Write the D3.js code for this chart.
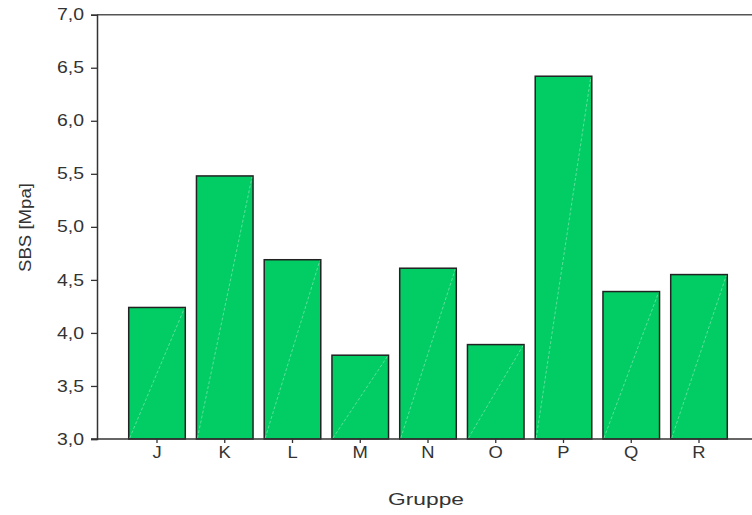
<!DOCTYPE html>
<html>
<head>
<meta charset="utf-8">
<script src="https://cdn.jsdelivr.net/npm/d3@7"></script>
<style>
html,body{margin:0;padding:0;background:#fff;}
svg{display:block;}
text{font-family:"Liberation Sans",Arial,sans-serif;fill:#333;}
</style>
</head>
<body>
<svg id="chart" width="752" height="515"></svg>
<script>
const categories = ["J","K","L","M","N","O","P","Q","R"];
const values = [4.24, 5.48, 4.69, 3.79, 4.61, 3.89, 6.42, 4.39, 4.55];
const yTicks = [3.0, 3.5, 4.0, 4.5, 5.0, 5.5, 6.0, 6.5, 7.0];
const xTitle = "Gruppe";
const yTitle = "SBS [Mpa]";

const svg = d3.select("#chart");
const mLeft = 97, mTop = 14.7, mBottom = 439, mRight = 752;

const y = d3.scaleLinear().domain([3, 7]).range([mBottom, mTop]);
const step = 67.75;
const x = d3.scaleBand().domain(categories)
  .range([157 - step/2, 157 + step*(categories.length - 0.5)])
  .paddingInner(0.165).paddingOuter(0.0825);

// bars
const g = svg.append("g");
g.selectAll("rect.bar").data(categories).join("rect")
  .attr("class","bar")
  .attr("x", d => x(d))
  .attr("y", (d,i) => y(values[i]))
  .attr("width", x.bandwidth())
  .attr("height", (d,i) => y(3) - y(values[i]))
  .attr("fill", "#02cd64")
  .attr("stroke", "#222")
  .attr("stroke-width", 1.5);
// faint diagonal highlight
g.selectAll("line.diag").data(categories).join("line")
  .attr("class","diag")
  .attr("x1", d => x(d) + 1)
  .attr("y1", y(3) - 1)
  .attr("x2", d => x(d) + x.bandwidth() - 1)
  .attr("y2", (d,i) => y(values[i]) + 1)
  .attr("stroke", "rgba(255,255,255,0.35)")
  .attr("stroke-width", 1)
  .attr("stroke-dasharray", "3,2");

// top frame line
svg.append("line").attr("x1", mLeft).attr("x2", mRight).attr("y1", mTop).attr("y2", mTop)
  .attr("stroke", "#555").attr("stroke-width", 1.5);

// y axis
const yAxis = svg.append("g").attr("transform", `translate(${mLeft},0)`)
  .call(d3.axisLeft(y).tickValues(yTicks).tickSize(6).tickPadding(7)
    .tickFormat(d => d3.format(".1f")(d).replace(".", ",")));
yAxis.select(".domain").attr("stroke", "#333").attr("stroke-width", 1.5);
yAxis.selectAll(".tick line").attr("stroke", "#333").attr("stroke-width", 1.3);
yAxis.selectAll(".tick text").attr("font-size", 16).attr("fill", "#333")
  .attr("textLength", 27).attr("lengthAdjust", "spacingAndGlyphs")
  .style("font-family", "'Liberation Sans', Arial, sans-serif");

// x axis
const xAxis = svg.append("g").attr("transform", `translate(0,${mBottom})`)
  .call(d3.axisBottom(x).tickSize(4).tickPadding(4).tickSizeOuter(0));
xAxis.select(".domain").remove();
xAxis.selectAll(".tick line").attr("stroke", "#333").attr("stroke-width", 1.3);
xAxis.selectAll(".tick text").attr("font-size", 16).attr("fill", "#333")
  .style("font-family", "'Liberation Sans', Arial, sans-serif")
  .attr("transform", "scale(1.15,1)");
svg.append("line").attr("x1", mLeft - 6).attr("x2", mRight).attr("y1", mBottom).attr("y2", mBottom)
  .attr("stroke", "#333").attr("stroke-width", 1.5);

// titles
svg.append("text").attr("x", 426).attr("y", 505).attr("text-anchor", "middle")
  .attr("font-size", 17).attr("textLength", 76).attr("lengthAdjust", "spacingAndGlyphs")
  .text(xTitle);
svg.append("text").attr("transform", "translate(31,227.5) rotate(-90)")
  .attr("text-anchor", "middle").attr("font-size", 16)
  .attr("textLength", 89).attr("lengthAdjust", "spacingAndGlyphs")
  .text(yTitle);
</script>
</body>
</html>
